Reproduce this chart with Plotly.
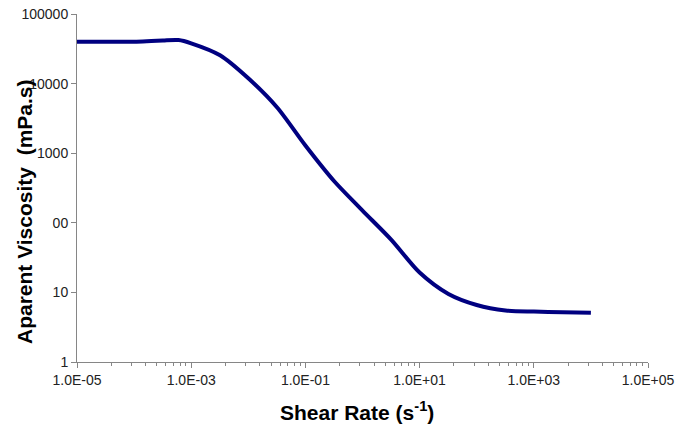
import plotly.graph_objects as go

# Data
shear_rate = [1e-5, 1e-4, 2e-4, 3.2e-4, 6e-4, 1e-3, 3.2e-3, 1e-2, 3.2e-2, 0.1,
              0.32, 1, 3.2, 10, 32, 100, 320, 1000, 3200, 10000]
viscosity = [40000, 40000, 41000, 41700, 42300, 37900, 25500, 11900, 4530, 1290,
             395, 150, 57, 19.3, 9.5, 6.6, 5.5, 5.3, 5.2, 5.1]

x_tickvals = [1e-5, 1e-3, 1e-1, 1e1, 1e3, 1e5]
x_ticktext = ["1.0E-05", "1.0E-03", "1.0E-01", "1.0E+01", "1.0E+03", "1.0E+05"]
y_tickvals = [1, 10, 100, 1000, 10000, 100000]
y_ticktext = ["1", "10", "100", "1000", "10000", "100000"]

# Excel-style minor ticks on a base-100 log axis (k^2 multiples)
x_minor = [v * k * k for v in x_tickvals[:-1] for k in range(2, 10)]

FONT = "Arial, Liberation Sans, sans-serif"
AXIS_COLOR = "#868686"

fig = go.Figure()
fig.add_trace(go.Scatter(
    x=shear_rate, y=viscosity, mode="lines",
    line=dict(color="#000080", width=4, shape="spline", smoothing=0.8),
    showlegend=False, hoverinfo="x+y",
))

fig.update_layout(
    width=690, height=425,
    margin=dict(l=69, r=50, t=6, b=71, autoexpand=False),
    paper_bgcolor="white", plot_bgcolor="white",
    font=dict(family=FONT, size=14, color="#222222"),
    xaxis=dict(
        type="log", range=[-5, 5], automargin=False,
        tickmode="array", tickvals=x_tickvals, ticktext=x_ticktext,
        ticks="outside", ticklen=5, tickcolor=AXIS_COLOR, tickwidth=1,
        showline=True, linecolor=AXIS_COLOR, linewidth=1,
        showgrid=False, zeroline=False, ticklabeloverflow="allow",
        tickfont=dict(family=FONT, size=14, color="#222222"),
        minor=dict(tickmode="array", tickvals=x_minor, ticks="outside",
                   ticklen=3, tickcolor=AXIS_COLOR, showgrid=False),
    ),
    yaxis=dict(
        type="log", range=[0, 5], automargin=False,
        tickmode="array", tickvals=y_tickvals, ticktext=y_ticktext,
        ticks="outside", ticklen=5, tickcolor=AXIS_COLOR, tickwidth=1,
        showline=True, linecolor=AXIS_COLOR, linewidth=1,
        showgrid=False, zeroline=False, ticklabeloverflow="allow",
        tickfont=dict(family=FONT, size=14, color="#222222"),
    ),
    shapes=[dict(type="rect", xref="paper", yref="paper",
                 x0=-0.0718, x1=-0.0429, y0=0.376, y1=0.425,
                 fillcolor="white", line=dict(width=0), layer="above")],
    annotations=[
        dict(text="<b>Shear Rate (s<sup>-1</sup>)</b>", xref="paper", yref="paper",
             x=0.49, y=-0.141, xanchor="center", yanchor="middle",
             showarrow=False, font=dict(family=FONT, size=21, color="#000000")),
        dict(text="<b>Aparent Viscosity  (mPa.s)</b>", xref="paper", yref="paper",
             x=-0.0928, y=0.431, xanchor="center", yanchor="middle", textangle=-90,
             showarrow=False, font=dict(family=FONT, size=21, color="#000000")),
    ],
)

fig.write_html("out.html")
